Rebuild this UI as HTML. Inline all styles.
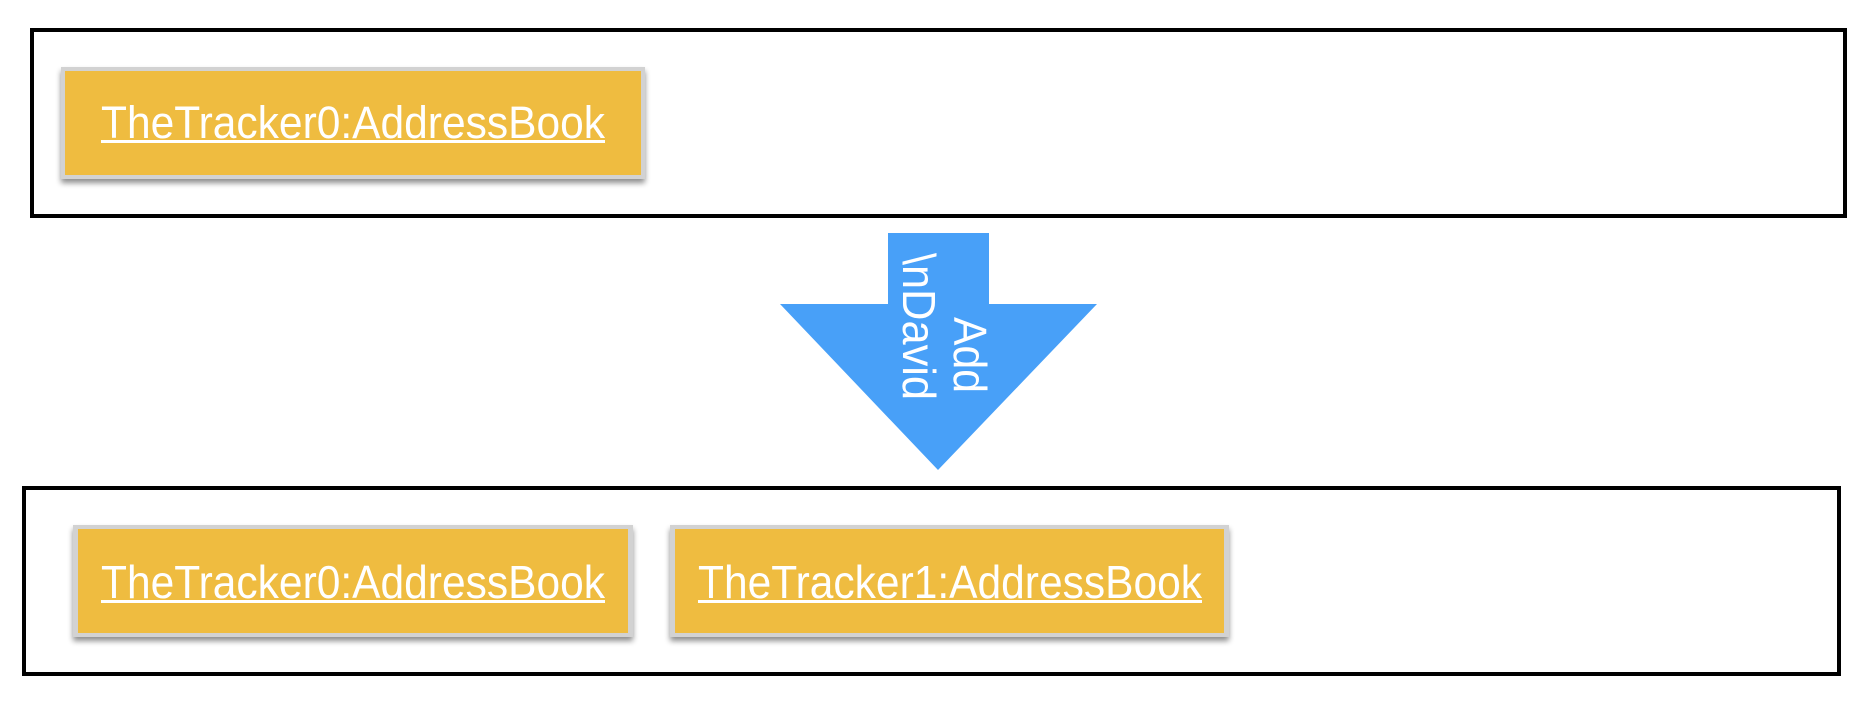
<!DOCTYPE html>
<html><head><meta charset="utf-8"><style>
html,body{margin:0;padding:0;background:#fff;}
svg{display:block;}
text{font-family:"Liberation Sans",sans-serif;fill:#fff;}
</style></head><body>
<svg width="1864" height="716" viewBox="0 0 1864 716" xmlns="http://www.w3.org/2000/svg">
<defs>
<filter id="sh" x="-5%" y="-20%" width="110%" height="150%">
<feGaussianBlur in="SourceAlpha" stdDeviation="3"/>
<feOffset dy="4"/>
<feComponentTransfer><feFuncA type="linear" slope="0.45"/></feComponentTransfer>
<feMerge><feMergeNode/><feMergeNode in="SourceGraphic"/></feMerge>
</filter>
</defs>
<!-- top frame -->
<rect x="32" y="30" width="1813" height="186" fill="none" stroke="#000" stroke-width="4"/>
<rect x="61" y="67" width="584" height="112" fill="#d2d2d2" filter="url(#sh)"/>
<rect x="65" y="71" width="576" height="104" fill="#efbc40"/>
<text x="101" y="138" font-size="45" textLength="504" lengthAdjust="spacingAndGlyphs">TheTracker0:AddressBook</text>
<rect x="101" y="140" width="504" height="3" fill="#fff"/>

<!-- arrow -->
<polygon points="888,233 989,233 989,304 1097,304 938,470 780,304 888,304" fill="#48a0f8"/>
<text transform="translate(954,317) rotate(90)" font-size="46" textLength="76" lengthAdjust="spacingAndGlyphs">Add</text>
<text transform="translate(903,253) rotate(90)" font-size="46" textLength="147" lengthAdjust="spacingAndGlyphs">\nDavid</text>

<!-- bottom frame -->
<rect x="24" y="488" width="1815" height="186" fill="none" stroke="#000" stroke-width="4"/>
<rect x="73" y="525" width="560" height="112" fill="#d2d2d2" filter="url(#sh)"/>
<rect x="78" y="529" width="550" height="104" fill="#efbc40"/>
<text x="101" y="598" font-size="46" textLength="504" lengthAdjust="spacingAndGlyphs">TheTracker0:AddressBook</text>
<rect x="101" y="600" width="504" height="3" fill="#fff"/>
<rect x="670" y="525" width="559" height="112" fill="#d2d2d2" filter="url(#sh)"/>
<rect x="675" y="529" width="549" height="104" fill="#efbc40"/>
<text x="698" y="598" font-size="46" textLength="504" lengthAdjust="spacingAndGlyphs">TheTracker1:AddressBook</text>
<rect x="698" y="600" width="504" height="3" fill="#fff"/>
</svg>
</body></html>
